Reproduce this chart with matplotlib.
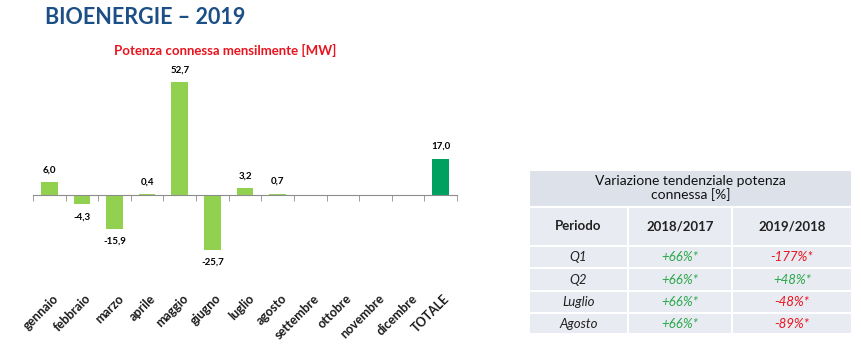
import matplotlib.pyplot as plt
from matplotlib.patches import Rectangle

plt.rcParams['font.family'] = ['Lato', 'DejaVu Sans']

# monthly connected power 2019 [MW]
months = ['gennaio', 'febbraio', 'marzo', 'aprile', 'maggio', 'giugno', 'luglio',
          'agosto', 'settembre', 'ottobre', 'novembre', 'dicembre', 'TOTALE']
values = [6.0, -4.3, -15.9, 0.4, 52.7, -25.7, 3.2, 0.7, None, None, None, None, 17.0]

# trend table
periods = ['Q1', 'Q2', 'Luglio', 'Agosto']
var_2018 = ['+66%*', '+66%*', '+66%*', '+66%*']
var_2019 = ['-177%*', '+48%*', '-48%*', '-89%*']

light_green = '#92D050'
dark_green = '#00A060'
red = '#E8141E'
green_txt = '#2AA84A'
blue = '#1B4F85'

W, H = 861, 360
fig = plt.figure(figsize=(W / 100, H / 100), dpi=100)

fig.text(45 / W, 1 - 18 / H, 'BIOENERGIE – 2019', color=blue, fontsize=15.5,
         fontweight='bold', va='center', ha='left')
fig.text(225 / W, 1 - 50 / H, 'Potenza connessa mensilmente [MW]', color=red,
         fontsize=9.5, fontweight='bold', va='center', ha='center')

# bar chart
ax = fig.add_axes([33 / W, 105 / H, 424 / W, 185 / H])
xs = list(range(len(months)))
for i, v in enumerate(values):
    if v is None:
        continue
    c = dark_green if months[i] == 'TOTALE' else light_green
    ax.bar(i, v, width=0.51, color=c)
    lbl = ('%.1f' % v).replace('.', ',')
    off = 9 if v >= 0 else -9
    ax.annotate(lbl, (i, v), xytext=(0, off), textcoords='offset points',
                ha='center', va='center', fontsize=7, fontweight='bold')

ax.set_xlim(-0.5, 12.5)
ax.set_ylim(-28.0, 58.4)
for s in ['top', 'right', 'left']:
    ax.spines[s].set_visible(False)
ax.spines['bottom'].set_position(('data', 0))
ax.spines['bottom'].set_color('#8C8C8C')
ax.set_yticks([])
ax.set_xticks([i - 0.5 for i in range(14)], minor=True)
ax.tick_params(axis='x', which='minor', length=4, color='#8C8C8C', direction='out')
ax.set_xticks(xs)
ax.set_xticklabels([])
ax.tick_params(axis='x', which='major', length=0)
for i, m in enumerate(months):
    ax.text(i + 0.08, -45.5, m, rotation=45, ha='right', va='top',
            rotation_mode='anchor', fontsize=9, fontweight='bold', color='#1a1a1a',
            clip_on=False)

# table
tx = fig.add_axes([0, 0, 1, 1], zorder=-1)
tx.set_xlim(0, W)
tx.set_ylim(H, 0)
tx.axis('off')

cols = [529, 628, 732, 852]
rows = [170, 207, 246, 268, 291, 313, 334]
tx.add_patch(Rectangle((cols[0], rows[0]), cols[3] - cols[0], rows[1] - rows[0],
                       facecolor='#DDE2EA', edgecolor='white', lw=1.5))
for r in range(1, 6):
    for c in range(3):
        tx.add_patch(Rectangle((cols[c], rows[r]), cols[c + 1] - cols[c],
                               rows[r + 1] - rows[r], facecolor='#E8EBF1',
                               edgecolor='white', lw=1.5))

tx.text((cols[0] + cols[3]) / 2, (rows[0] + rows[1]) / 2,
        'Variazione tendenziale potenza\nconnessa [%]', ha='center', va='center',
        fontsize=10, linespacing=1.1, color='#111111')
cx = [(cols[i] + cols[i + 1]) / 2 for i in range(3)]
for x, t in zip(cx, ['Periodo', '2018/2017', '2019/2018']):
    tx.text(x, (rows[1] + rows[2]) / 2, t, ha='center', va='center',
            fontsize=9.5, fontweight='bold', color='#222222')
for r, (p, a, b) in enumerate(zip(periods, var_2018, var_2019)):
    y = (rows[r + 2] + rows[r + 3]) / 2
    tx.text(cx[0], y, p, ha='center', va='center', fontsize=9.5, style='italic',
            color='#222222')
    tx.text(cx[1], y, a, ha='center', va='center', fontsize=9.5, style='italic',
            color=green_txt if a.startswith('+') else red)
    tx.text(cx[2], y, b, ha='center', va='center', fontsize=9.5, style='italic',
            color=green_txt if b.startswith('+') else red)

fig.savefig('out.png', dpi=100)
